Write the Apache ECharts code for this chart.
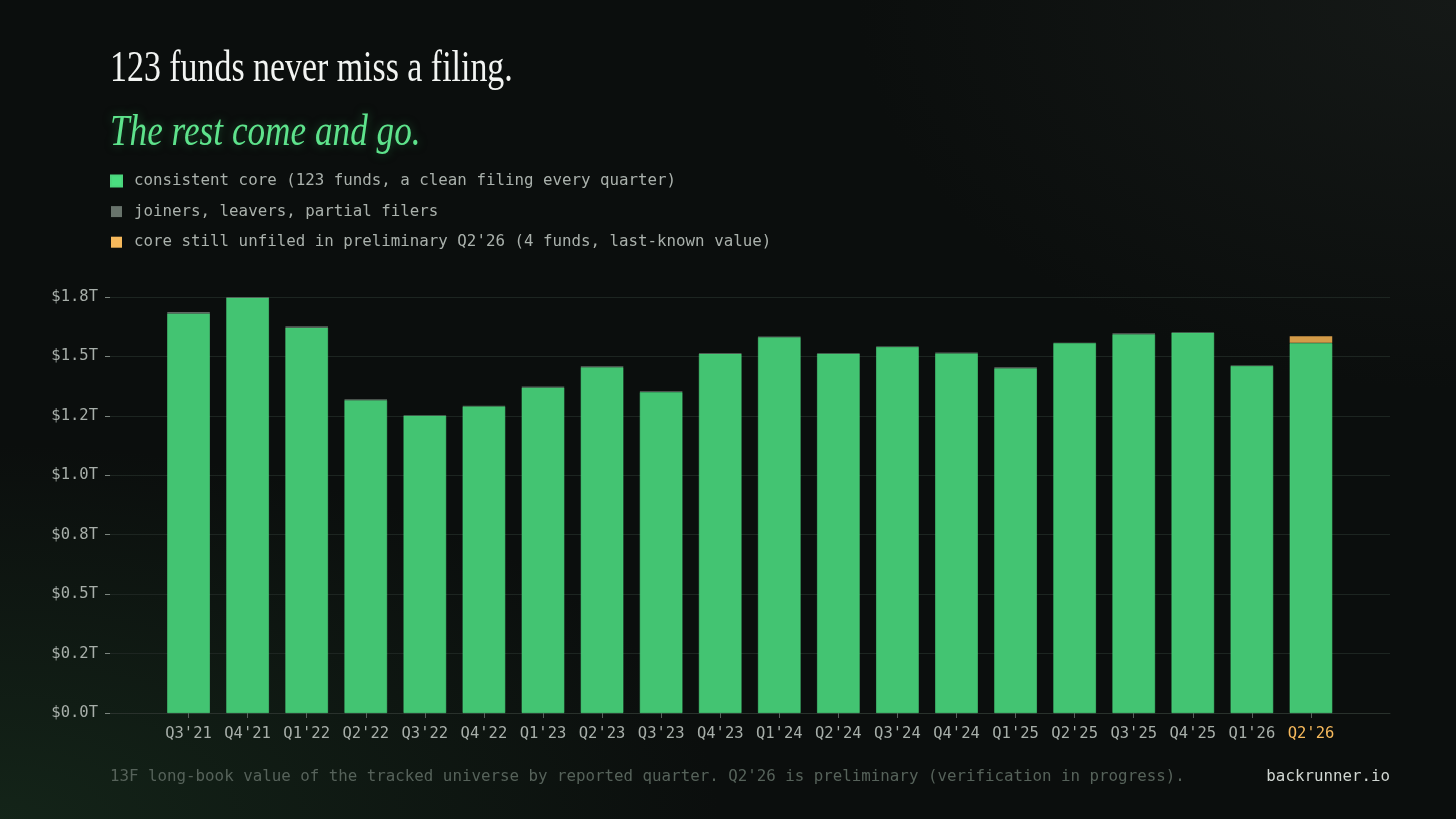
<!DOCTYPE html>
<html>
<head>
<meta charset="utf-8">
<script src="https://cdn.jsdelivr.net/npm/echarts@6/dist/echarts.min.js"></script>
<style>
  html, body { margin: 0; padding: 0; }
  body {
    width: 1456px; height: 819px; overflow: hidden;
    background:
      radial-gradient(ellipse 1000px 520px at 0% 100%, rgba(28, 58, 36, 0.5), rgba(28, 58, 36, 0) 72%),
      radial-gradient(ellipse 800px 520px at 100% 0%, rgba(36, 41, 38, 0.4), rgba(36, 41, 38, 0) 75%),
      #0b0e0d;
  }
  #main { width: 1456px; height: 819px; }
</style>
</head>
<body>
<div id="main"></div>
<script>
// quarters on the x axis
var quarters = ["Q3'21", "Q4'21", "Q1'22", "Q2'22", "Q3'22", "Q4'22", "Q1'23", "Q2'23", "Q3'23", "Q4'23",
                "Q1'24", "Q2'24", "Q3'24", "Q4'24", "Q1'25", "Q2'25", "Q3'25", "Q4'25", "Q1'26", "Q2'26"];
// consistent core, $T
var coreValues = [1.681, 1.747, 1.621, 1.316, 1.251, 1.290, 1.369, 1.455, 1.350, 1.511,
                  1.581, 1.512, 1.540, 1.513, 1.450, 1.556, 1.593, 1.600, 1.460, 1.556];
// joiners, leavers, partial filers, $T
var otherValues = [0.006, 0.005, 0.006, 0.004, 0.003, 0.003, 0.004, 0.004, 0.003, 0.003,
                   0.003, 0.002, 0.002, 0.004, 0.004, 0.002, 0.004, 0.002, 0.002, 0.002];
// core still unfiled in preliminary Q2'26, $T
var unfiledValues = [0, 0, 0, 0, 0, 0, 0, 0, 0, 0, 0, 0, 0, 0, 0, 0, 0, 0, 0, 0.027];
// y tick labels as printed
var yTickLabels = ['$0.0T', '$0.2T', '$0.5T', '$0.8T', '$1.0T', '$1.2T', '$1.5T', '$1.8T'];

var seriesNames = [
  'consistent core (123 funds, a clean filing every quarter)',
  'joiners, leavers, partial filers',
  "core still unfiled in preliminary Q2'26 (4 funds, last-known value)"
];

var mono = '"DejaVu Sans Mono", "Liberation Mono", monospace';
var serif = '"Liberation Serif", "DejaVu Serif", serif';

var chart = echarts.init(document.getElementById('main'));

var option = {
  backgroundColor: 'transparent',
  animation: false,
  graphic: [
    {
      type: 'text', x: 110, y: 47, scaleX: 0.77,
      style: { text: '123 funds never miss a filing.', font: '44px ' + serif, fill: '#f2f4f2' }
    },
    {
      type: 'text', x: 110, y: 111, scaleX: 0.8,
      style: {
        text: 'The rest come and go.', font: 'italic 44px ' + serif, fill: '#5ee38c',
        textShadowColor: 'rgba(40, 130, 70, 0.6)', textShadowBlur: 10
      }
    },
    {
      type: 'text', x: 110, y: 769,
      style: {
        text: "13F long-book value of the tracked universe by reported quarter. Q2'26 is preliminary (verification in progress).",
        font: '15.8px ' + mono, fill: '#56625a'
      }
    },
    {
      type: 'text', x: 1390, y: 769,
      style: { text: 'backrunner.io', font: '15.8px ' + mono, fill: '#d0d6d1', align: 'right' }
    }
  ],
  legend: {
    left: 110, top: 173, orient: 'vertical', itemGap: 14.6, padding: 0,
    itemWidth: 11, itemHeight: 11, icon: 'rect',
    selectedMode: false,
    textStyle: { color: '#aab1ac', fontFamily: mono, fontSize: 15.8, padding: [0, 0, 0, 7] },
    data: [
      { name: seriesNames[0], itemStyle: { color: '#4ade80' } },
      { name: seriesNames[1], itemStyle: { color: '#68736b' } },
      { name: seriesNames[2], itemStyle: { color: '#f6b95c' } }
    ]
  },
  grid: [
    { left: 110, right: 66, top: 297, bottom: 106 },
    { left: 159, right: 115.5, top: 297, bottom: 106 }
  ],
  xAxis: [
    {
      gridIndex: 0, type: 'value', min: 0, max: 1,
      axisLine: { show: true, lineStyle: { color: '#29312c', width: 1 } },
      axisTick: { show: false }, axisLabel: { show: false }, splitLine: { show: false }
    },
    {
      gridIndex: 1, type: 'category', data: quarters,
      axisLine: { show: false },
      axisTick: { show: true, alignWithLabel: true, interval: 0, length: 5, lineStyle: { color: '#59625c' } },
      axisLabel: {
        interval: 0, margin: 13, fontFamily: mono, fontSize: 15.5,
        color: function (v) { return v === "Q2'26" ? '#f6b95c' : '#a7aea9'; }
      }
    }
  ],
  yAxis: [
    {
      gridIndex: 0, type: 'value', min: 0, max: 1.75, interval: 0.25,
      axisLine: { show: false },
      axisTick: { show: true, length: 5, lineStyle: { color: '#7b847e' } },
      axisLabel: {
        margin: 12, fontFamily: mono, fontSize: 15.5, color: '#a7aea9',
        formatter: function (v) { return yTickLabels[Math.round(v / 0.25)]; }
      },
      splitLine: { show: true, lineStyle: { color: '#1d2521', width: 1 } }
    },
    {
      gridIndex: 1, type: 'value', min: 0, max: 1.75, interval: 0.25,
      axisLine: { show: false }, axisTick: { show: false }, axisLabel: { show: false }, splitLine: { show: false }
    }
  ],
  series: [
    {
      name: seriesNames[0], type: 'bar', stack: 'total', xAxisIndex: 1, yAxisIndex: 1,
      barWidth: '72%', data: coreValues,
      itemStyle: { color: '#43c472', borderColor: '#4bd47c', borderWidth: 0.6 }
    },
    {
      name: seriesNames[1], type: 'bar', stack: 'total', xAxisIndex: 1, yAxisIndex: 1,
      barWidth: '72%', data: otherValues,
      itemStyle: { color: '#5f6962' }
    },
    {
      name: seriesNames[2], type: 'bar', stack: 'total', xAxisIndex: 1, yAxisIndex: 1,
      barWidth: '72%', data: unfiledValues,
      itemStyle: { color: '#d39b48' }
    }
  ]
};

chart.setOption(option);
</script>
</body>
</html>
